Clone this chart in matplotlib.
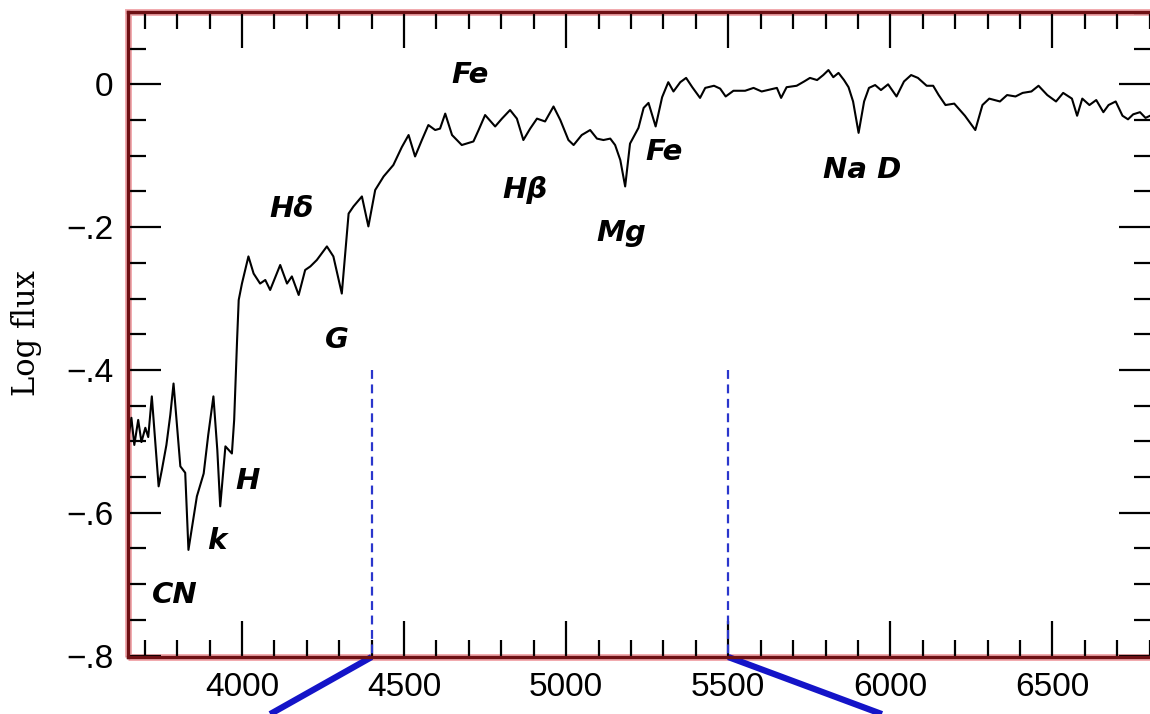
import matplotlib
matplotlib.use('Agg')
import matplotlib.pyplot as plt
from matplotlib.ticker import MultipleLocator, FuncFormatter
from matplotlib.patches import Rectangle

# スペクトル (波長 [A], log flux) - 図から読み取り
wavelength = [3649, 3659, 3668, 3680, 3690, 3702, 3711, 3722, 3743, 3753,
              3767, 3779, 3789, 3810, 3825, 3835, 3847, 3861, 3882, 3896,
              3912, 3924, 3933, 3949, 3969, 3976, 3985, 3990, 4000, 4020,
              4036, 4056, 4072, 4087, 4118, 4139, 4154, 4175, 4195, 4211,
              4231, 4262, 4282, 4308, 4329, 4344, 4370, 4390, 4411, 4437,
              4467, 4493, 4514, 4534, 4555, 4575, 4596, 4611, 4627, 4648,
              4678, 4714, 4730, 4750, 4781, 4802, 4827, 4848, 4868, 4889,
              4910, 4935, 4961, 4982, 5007, 5023, 5048, 5074, 5095, 5115,
              5136, 5151, 5167, 5182, 5197, 5223, 5239, 5254, 5276, 5296,
              5315, 5331, 5352, 5370, 5389, 5413, 5429, 5456, 5475, 5492,
              5516, 5552, 5578, 5603, 5632, 5650, 5663, 5680, 5711, 5734,
              5752, 5774, 5793, 5809, 5824, 5840, 5857, 5871, 5885, 5902,
              5919, 5934, 5953, 5971, 5993, 6019, 6042, 6064, 6085, 6112,
              6132, 6149, 6170, 6197, 6230, 6262, 6284, 6305, 6338, 6360,
              6386, 6408, 6435, 6457, 6484, 6511, 6533, 6560, 6576, 6592,
              6614, 6635, 6657, 6673, 6695, 6716, 6733, 6749, 6770, 6787,
              6801]
log_flux = [-0.498, -0.467, -0.505, -0.470, -0.501, -0.481, -0.494, -0.437, -0.563, -0.540,
            -0.505, -0.463, -0.419, -0.535, -0.544, -0.652, -0.617, -0.577, -0.545, -0.491,
            -0.437, -0.512, -0.591, -0.507, -0.517, -0.470, -0.358, -0.302, -0.279, -0.241,
            -0.265, -0.279, -0.274, -0.288, -0.253, -0.279, -0.269, -0.295, -0.260, -0.255,
            -0.246, -0.227, -0.241, -0.293, -0.181, -0.171, -0.157, -0.199, -0.148, -0.129,
            -0.113, -0.088, -0.071, -0.101, -0.078, -0.057, -0.064, -0.062, -0.041, -0.071,
            -0.085, -0.080, -0.064, -0.043, -0.059, -0.048, -0.036, -0.048, -0.078, -0.062,
            -0.048, -0.052, -0.031, -0.050, -0.078, -0.085, -0.071, -0.064, -0.076, -0.078,
            -0.076, -0.085, -0.106, -0.143, -0.083, -0.061, -0.033, -0.026, -0.059, -0.018,
            0.003, -0.010, 0.003, 0.009, -0.004, -0.019, -0.005, -0.002, -0.006, -0.017,
            -0.009, -0.009, -0.005, -0.010, -0.007, -0.005, -0.019, -0.004, -0.002, 0.004,
            0.009, 0.006, 0.013, 0.020, 0.010, 0.016, 0.006, -0.004, -0.024, -0.068,
            -0.024, -0.005, -0.001, -0.008, 0.000, -0.017, 0.004, 0.013, 0.009, -0.002,
            -0.002, -0.015, -0.029, -0.027, -0.044, -0.064, -0.029, -0.020, -0.024, -0.015,
            -0.017, -0.012, -0.010, -0.002, -0.015, -0.024, -0.012, -0.020, -0.044, -0.020,
            -0.029, -0.022, -0.039, -0.029, -0.024, -0.044, -0.049, -0.042, -0.039, -0.047,
            -0.044]

# 吸収線ラベル
line_names = ['Fe', 'H\u03b4', 'G', 'H\u03b2', 'Mg', 'Fe', 'Na D', 'H', 'k', 'CN']
line_wl = [4704, 4152, 4294, 4874, 5170, 5302, 5913, 4016, 3921, 3792]
line_flux = [0.013, -0.175, -0.358, -0.148, -0.208, -0.095, -0.120, -0.556, -0.639, -0.715]

# 青い破線 (フィルター帯域の端) と下に伸びる線
band_edges = [4400, 5500]
band_top = -0.4
connector_x = [[4400, 4087], [5500, 5974]]
connector_y = [[-0.802, -0.882], [-0.802, -0.882]]

fig = plt.figure(figsize=(11.5, 7.14), dpi=100)
W, H = 1150, 714
ax = fig.add_axes([127.5 / W, (H - 657) / H, (1152 - 127.5) / W, (657 - 11.5) / H])

ax.plot(wavelength, log_flux, color='black', lw=1.5)

for x in band_edges:
    ax.plot([x, x], [band_top, -0.802], color='#2a36cc', lw=1.6,
            linestyle=(0, (4, 2.5)))
for cx, cy in zip(connector_x, connector_y):
    ax.plot(cx, cy, color='#1414c8', lw=4.5, clip_on=False,
            solid_capstyle='butt')

for name, x, y in zip(line_names, line_wl, line_flux):
    ax.text(x, y, name, ha='center', va='center', fontsize=21,
            fontweight='bold', fontstyle='italic', family='DejaVu Sans')

ax.set_xlim(3647, 6807)
ax.set_ylim(-0.802, 0.102)

ax.xaxis.set_major_locator(MultipleLocator(500))
ax.xaxis.set_minor_locator(MultipleLocator(100))
ax.yaxis.set_major_locator(MultipleLocator(0.2))
ax.yaxis.set_minor_locator(MultipleLocator(0.05))


def yfmt(v, pos):
    if abs(v) < 1e-9:
        return '0'
    return '\u2212' + ('%.1f' % abs(v)).lstrip('0')


ax.yaxis.set_major_formatter(FuncFormatter(yfmt))

ax.tick_params(which='both', direction='in', top=True, right=True,
               width=1.6, color='black')
ax.tick_params(axis='x', which='major', length=26, pad=11, labelsize=24)
ax.tick_params(axis='x', which='minor', length=12)
ax.tick_params(axis='y', which='major', length=24, pad=10, labelsize=24)
ax.tick_params(axis='y', which='minor', length=13)
for lab in ax.get_xticklabels() + ax.get_yticklabels():
    lab.set_family('Liberation Sans')

for sp in ax.spines.values():
    sp.set_color('#6e1014')
    sp.set_linewidth(2.4)
# 枠の赤いにじみ
ax.add_patch(Rectangle((0, 0), 1, 1, transform=ax.transAxes, fill=False,
                       edgecolor='#e0404a', lw=5, alpha=0.45, clip_on=False,
                       zorder=0.5))

fig.text(26 / W, 1 - 333 / H, 'Log flux', rotation=90, ha='center',
         va='center', fontsize=22, family='DejaVu Serif')

fig.savefig('out.png', dpi=100)
